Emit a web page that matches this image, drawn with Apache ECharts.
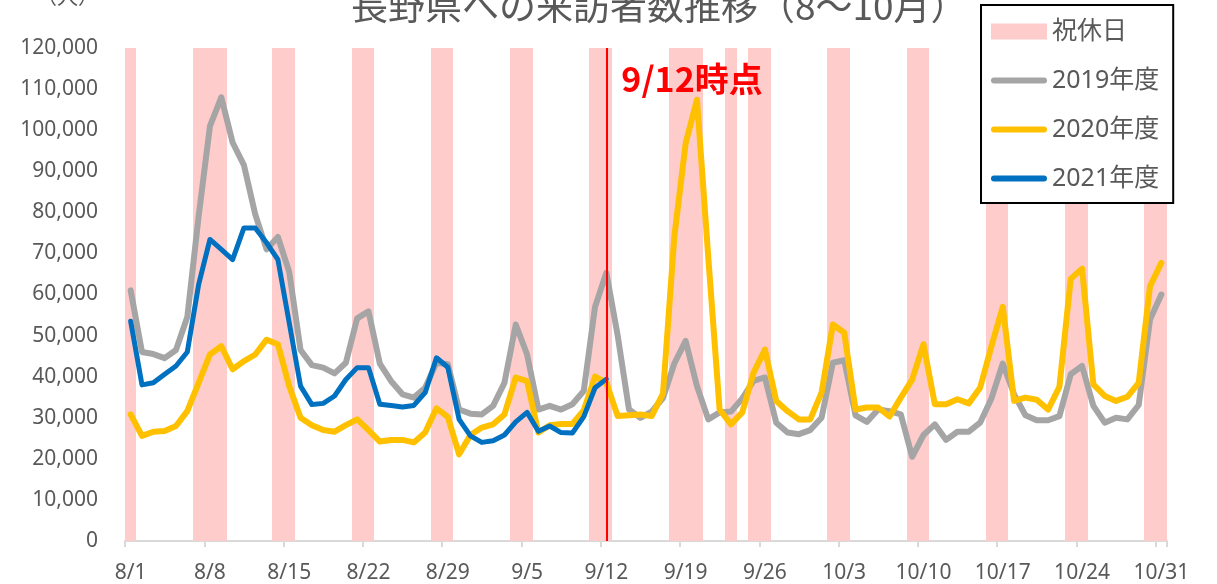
<!DOCTYPE html>
<html>
<head>
<meta charset="utf-8">
<script src="https://cdn.jsdelivr.net/npm/echarts@6/dist/echarts.min.js"></script>
<style>
html,body{margin:0;padding:0;background:#fff;}
#chart{width:1217px;height:584px;}
</style>
</head>
<body>
<div id="chart"></div>
<script>
const categories = [
 '8/1','8/2','8/3','8/4','8/5','8/6','8/7','8/8','8/9','8/10','8/11','8/12','8/13','8/14','8/15','8/16',
 '8/17','8/18','8/19','8/20','8/21','8/22','8/23','8/24','8/25','8/26','8/27','8/28','8/29','8/30','8/31',
 '9/1','9/2','9/3','9/4','9/5','9/6','9/7','9/8','9/9','9/10','9/11','9/12','9/13','9/14','9/15',
 '9/16','9/17','9/18','9/19','9/20','9/21','9/22','9/23','9/24','9/25','9/26','9/27','9/28','9/29','9/30',
 '10/1','10/2','10/3','10/4','10/5','10/6','10/7','10/8','10/9','10/10','10/11','10/12','10/13','10/14','10/15','10/16',
 '10/17','10/18','10/19','10/20','10/21','10/22','10/23','10/24','10/25','10/26','10/27','10/28','10/29','10/30','10/31'
];

const holidays = ['8/1','8/7','8/8','8/9','8/14','8/15','8/21','8/22','8/28','8/29','9/4','9/5','9/11','9/12',
 '9/18','9/19','9/20','9/23','9/25','9/26','10/2','10/3','10/9','10/10','10/16','10/17','10/23','10/24','10/30','10/31'];
const holidayBarValue = 120000;

const visitors2019 = [
 61000,46000,45500,44500,46500,54500,79000,101000,108000,97000,91500,79500,71000,74000,65500,46500,
 42800,42200,40800,43400,54200,55900,43200,38900,35700,34900,37300,43400,43000,32000,31000,
 30800,32900,38500,52700,45400,32000,32900,32000,33300,36500,57000,65300,50000,32000,30000,
 31500,34800,43200,48700,37700,29600,31300,31500,34700,39000,39800,28800,26400,26000,27000,
 30000,43400,44000,30600,29000,32000,31600,30800,20500,25800,28400,24600,26600,26600,28800,34700,
 43200,35700,30600,29400,29400,30400,40600,42600,32900,28800,30000,29600,33100,53900,60000
];

const visitors2020 = [
 30800,25600,26600,26800,28000,31600,38500,45400,47400,41800,43800,45400,49000,47900,37700,30000,
 28200,27000,26600,28200,29600,27000,24200,24600,24600,24000,26400,32300,30200,21100,25800,
 27600,28400,30800,39800,38900,26400,28200,28500,28500,31800,40000,38500,30400,30600,30800,
 30400,35900,74000,96800,107400,69000,32000,28400,31300,41000,46600,34100,31600,29600,29600,
 36100,52700,50700,32000,32500,32500,30300,34900,39300,47900,33300,33300,34500,33500,37300,47400,
 57000,34100,34900,34400,32000,37500,63800,66300,38100,35300,34100,35100,38500,62000,67700
];

const visitors2021 = [
 53500,38000,38500,40600,42600,46000,62400,73400,71000,68500,76200,76200,72600,68500,53100,37700,
 33200,33500,35300,39300,42200,42200,33300,33000,32600,33000,36100,44600,42300,29600,25600,
 24000,24400,25800,29000,31300,26700,28000,26400,26300,30200,37300,39400
];

const yTicks = { min: 0, max: 120000, interval: 10000 };
const markerDate = '9/12';
const markerText = '9/12時点';
const markerLabelValue = 112500;

const fontFamily = "'Noto Sans', 'Noto Sans CJK JP', sans-serif";
const textGray = '#595959';
const holidayColor = '#FFCCCC';
const lineIcon = 'path://M3,0 L53,0 A3,3 0 0 1 53,6 L3,6 A3,3 0 0 1 3,0 Z';

const holidayData = holidays.map(d => [d, holidayBarValue]);

function renderHoliday(params, api) {
  const idx = api.value(0);
  const top = api.coord([idx, api.value(1)]);
  const base = api.coord([idx, 0]);
  const w = api.size([1, 0])[0];
  const x0 = Math.round(top[0] - w / 2);
  const x1 = Math.round(top[0] + w / 2);
  const y0 = Math.round(top[1]);
  const y1 = Math.round(base[1]);
  return { type: 'rect', shape: { x: x0, y: y0, width: x1 - x0, height: y1 - y0 },
           style: { fill: holidayColor } };
}

const chart = echarts.init(document.getElementById('chart'), null, {renderer: 'canvas'});
const option = {
  animation: false,
  backgroundColor: '#fff',
  textStyle: { fontFamily: fontFamily },
  title: [
    { text: '長野県への来訪者数推移（8～10月）', left: 351, top: -13, padding: 0,
      textStyle: { fontSize: 37, fontWeight: 'normal', color: textGray, fontFamily: "'Noto Sans CJK JP', sans-serif" } },
    { text: '（人）', left: 36, top: -14, padding: 0,
      textStyle: { fontSize: 21, fontWeight: 'normal', color: textGray, fontFamily: "'Noto Sans CJK JP', sans-serif" } }
  ],
  grid: { left: 125, right: 50, top: 48, bottom: 42, containLabel: false },
  legend: {
    orient: 'vertical', left: 981, top: 5,
    padding: [14, 14, 12, 10], itemGap: 24, itemWidth: 56, itemHeight: 16,
    symbolKeepAspect: true,
    borderColor: '#000', borderWidth: 2, backgroundColor: '#fff',
    textStyle: { fontSize: 25, color: textGray, fontFamily: fontFamily, lineHeight: 24 },
    data: [
      { name: '祝休日', icon: 'rect', itemStyle: { color: holidayColor } },
      { name: '2019年度', icon: lineIcon },
      { name: '2020年度', icon: lineIcon },
      { name: '2021年度', icon: lineIcon }
    ]
  },
  xAxis: {
    type: 'category', data: categories, boundaryGap: true,
    axisLine: { lineStyle: { color: '#d9d9d9', width: 2 } },
    axisTick: { show: true, interval: 6, length: 6, lineStyle: { color: '#d9d9d9', width: 2 } },
    axisLabel: { interval: 6, color: textGray, fontSize: 21, margin: 22, fontFamily: fontFamily },
    splitLine: { show: false }
  },
  yAxis: {
    type: 'value', min: yTicks.min, max: yTicks.max, interval: yTicks.interval,
    axisLine: { show: false }, axisTick: { show: false }, splitLine: { show: false },
    axisLabel: { color: textGray, fontSize: 21, margin: 27, fontFamily: fontFamily,
      formatter: v => echarts.format.addCommas(v) }
  },
  series: [
    { name: '祝休日', type: 'custom', data: holidayData, renderItem: renderHoliday,
      encode: { x: 0, y: 1 }, itemStyle: { color: holidayColor }, z: 1, silent: true },
    { name: '2019年度', type: 'line', data: visitors2019, symbol: 'none', z: 3,
      itemStyle: { color: '#A5A5A5' },
      lineStyle: { color: '#A5A5A5', width: 6, cap: 'round', join: 'round' } },
    { name: '2020年度', type: 'line', data: visitors2020, symbol: 'none', z: 4,
      itemStyle: { color: '#FFC000' },
      lineStyle: { color: '#FFC000', width: 6, cap: 'round', join: 'round' } },
    { name: '2021年度', type: 'line', data: visitors2021, symbol: 'none', z: 5,
      itemStyle: { color: '#0070C0' },
      lineStyle: { color: '#0070C0', width: 5, cap: 'round', join: 'round' },
      markLine: {
        silent: true, symbol: 'none', z: 10,
        lineStyle: { color: '#FF0000', width: 2, type: 'solid' },
        label: { show: false },
        data: [ { xAxis: markerDate } ]
      },
      markPoint: {
        silent: true, symbol: 'circle', symbolSize: 0,
        label: { show: true, position: 'right', distance: 15, formatter: markerText,
          color: '#FF0000', fontWeight: 'bold', fontSize: 34, fontFamily: "'Noto Sans CJK JP', sans-serif" },
        data: [ { coord: [markerDate, markerLabelValue] } ]
      }
    }
  ]
};
chart.setOption(option);
</script>
</body>
</html>
